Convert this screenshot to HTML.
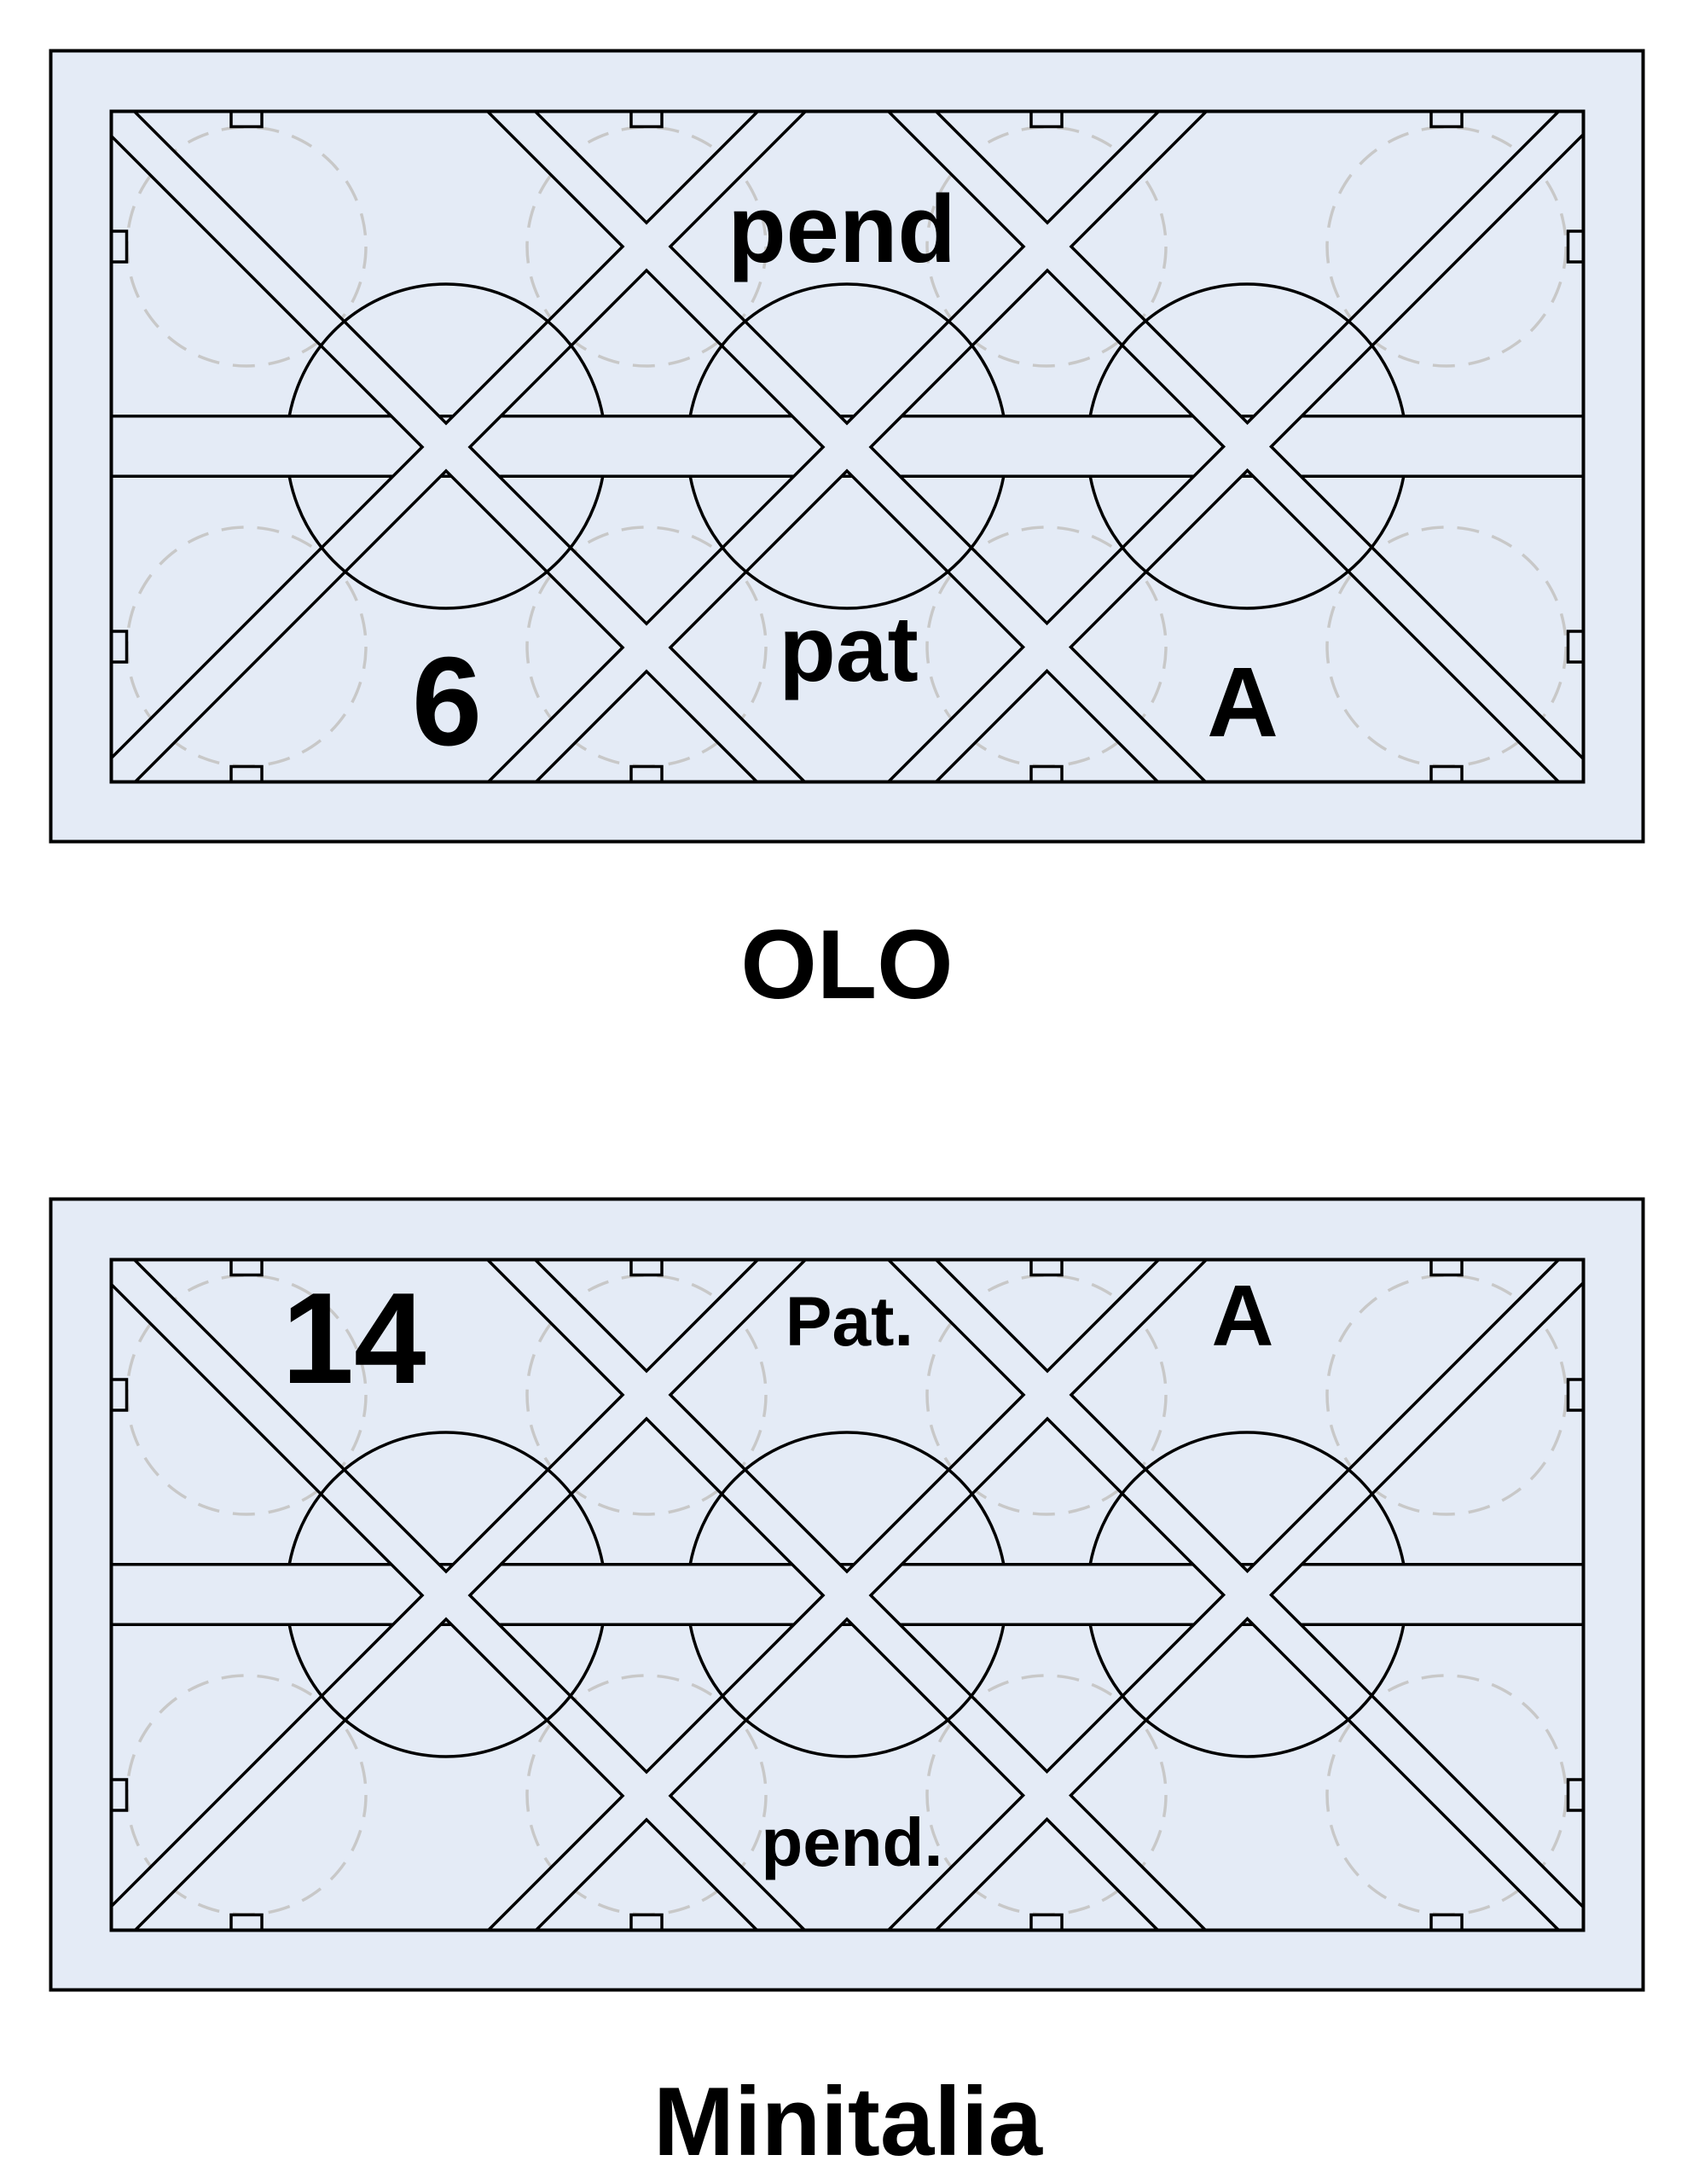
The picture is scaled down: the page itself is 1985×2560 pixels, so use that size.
<!DOCTYPE html>
<html><head><meta charset="utf-8"><style>
html,body{margin:0;padding:0;background:#fff;}
svg{display:block;}
text{font-family:"Liberation Sans",Arial,sans-serif;font-weight:bold;fill:#000;}
</style></head><body>
<svg width="1985" height="2560" viewBox="0 0 1985 2560" xmlns="http://www.w3.org/2000/svg">
<defs>
<clipPath id="ic"><rect x="130.5" y="130.5" width="1726" height="786"/></clipPath>
<clipPath id="cc"><rect x="130" y="130" width="1727" height="358"/><rect x="130" y="559" width="1727" height="358"/></clipPath>
<g id="panel">
  <rect x="59.5" y="59.5" width="1867" height="927" fill="#e4ebf6" stroke="#000" stroke-width="4"/>
  <rect x="130.5" y="130.5" width="1726" height="786" fill="#e4ebf6"/>
  <g clip-path="url(#ic)">
    <g fill="none" stroke="#c8c8c8" stroke-width="3.5" stroke-dasharray="26,16">
      <circle cx="289" cy="289" r="140"/><circle cx="758" cy="289" r="140"/><circle cx="1227" cy="289" r="140"/><circle cx="1696" cy="289" r="140"/>
      <circle cx="289" cy="758" r="140"/><circle cx="758" cy="758" r="140"/><circle cx="1227" cy="758" r="140"/><circle cx="1696" cy="758" r="140"/>
    </g>
    <line x1="100" y1="523" x2="1900" y2="523" stroke="#000" stroke-width="74"/>
    <line x1="100" y1="523" x2="1900" y2="523" stroke="#e4ebf6" stroke-width="67"/>
    <g stroke="#000" stroke-width="43" fill="none">
      <line x1="0" y1="1" x2="1100" y2="1101"/>
      <line x1="400" y1="-69" x2="1500" y2="1031"/>
      <line x1="900" y1="-39" x2="2000" y2="1061"/>
      <line x1="0" y1="1047" x2="1100" y2="-53"/>
      <line x1="500" y1="1017" x2="1600" y2="-83"/>
      <line x1="1000" y1="986" x2="2100" y2="-114"/>
    </g>
    <g stroke="#e4ebf6" stroke-width="36" fill="none">
      <line x1="0" y1="1" x2="1100" y2="1101"/>
      <line x1="400" y1="-69" x2="1500" y2="1031"/>
      <line x1="900" y1="-39" x2="2000" y2="1061"/>
      <line x1="0" y1="1047" x2="1100" y2="-53"/>
      <line x1="500" y1="1017" x2="1600" y2="-83"/>
      <line x1="1000" y1="986" x2="2100" y2="-114"/>
    </g>
    <g fill="none" stroke="#000" stroke-width="3.5" clip-path="url(#cc)">
      <ellipse cx="523" cy="523" rx="187" ry="190"/>
      <ellipse cx="993" cy="523" rx="187" ry="190"/>
      <ellipse cx="1462" cy="523" rx="187" ry="190"/>
    </g>
  </g>
  <g fill="#e4ebf6" stroke="#000" stroke-width="3.5">
    <rect x="271" y="130.5" width="36" height="18"/><rect x="740" y="130.5" width="36" height="18"/><rect x="1209" y="130.5" width="36" height="18"/><rect x="1678" y="130.5" width="36" height="18"/>
    <rect x="271" y="898.5" width="36" height="18"/><rect x="740" y="898.5" width="36" height="18"/><rect x="1209" y="898.5" width="36" height="18"/><rect x="1678" y="898.5" width="36" height="18"/>
    <rect x="130.5" y="271" width="18" height="36"/><rect x="130.5" y="740" width="18" height="36"/>
    <rect x="1838.5" y="271" width="18" height="36"/><rect x="1838.5" y="740" width="18" height="36"/>
  </g>
  <rect x="130.5" y="130.5" width="1726" height="786" fill="none" stroke="#000" stroke-width="4"/>
</g>
</defs>

<use href="#panel"/>
<text x="987" y="307" font-size="112" text-anchor="middle">pend</text>
<text x="995" y="798" font-size="109" text-anchor="middle">pat</text>
<text x="524" y="873" font-size="148" text-anchor="middle">6</text>
<text x="1457" y="863" font-size="116" text-anchor="middle">A</text>
<text x="993" y="1170" font-size="115" text-anchor="middle">OLO</text>

<g transform="translate(0,1346)"><use href="#panel"/></g>
<text x="415" y="1621" font-size="152" text-anchor="middle">14</text>
<text x="996" y="1577" font-size="82" text-anchor="middle">Pat.</text>
<text x="1457" y="1577" font-size="101" text-anchor="middle">A</text>
<text x="999" y="2187" font-size="80" text-anchor="middle">pend.</text>
<text x="994" y="2526" font-size="114" text-anchor="middle">Minitalia</text>
</svg>
</body></html>
